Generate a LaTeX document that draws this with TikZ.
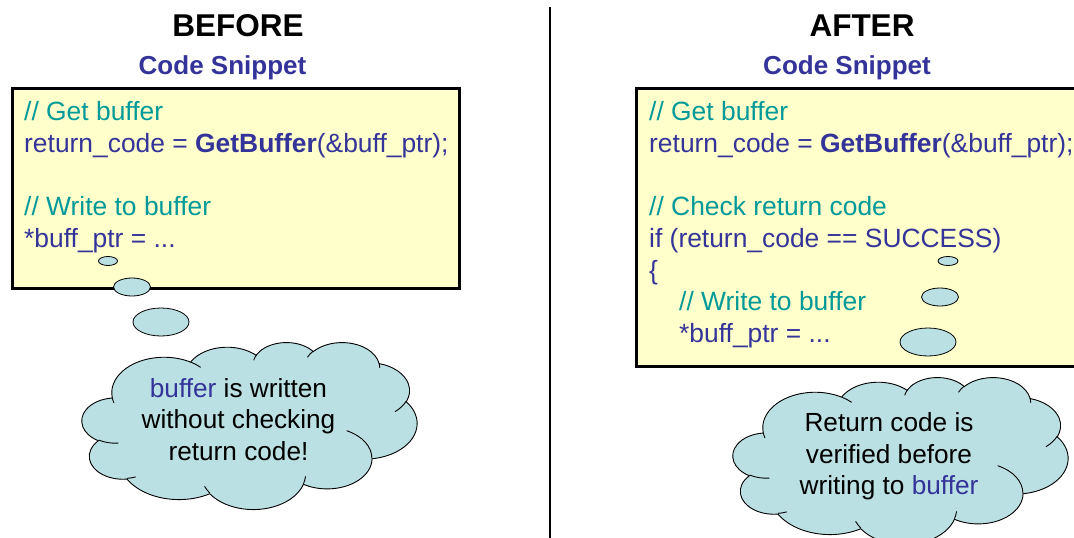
\documentclass[tikz,border=0pt]{standalone}
\usepackage{fontspec}
\setmainfont{Liberation Sans}
\definecolor{navy}{HTML}{333399}
\definecolor{tealc}{HTML}{009999}
\definecolor{boxfill}{HTML}{FFFFCC}
\definecolor{cloudfill}{HTML}{BBE0E3}
% elliptic arc in DrawingML style: wR hR startangle sweep (visual angles)
\newcommand\pparc[4]{\pgfextra{%
  \pgfmathparse{atan2((#1)*sin(#3),(#2)*cos(#3))}\xdef\cta{\pgfmathresult}%
  \pgfmathparse{atan2((#1)*sin((#3)+(#4)),(#2)*cos((#3)+(#4)))}\xdef\ctb{\pgfmathresult}%
  \pgfmathparse{mod(\ctb-\cta+720,360)}\xdef\ctd{\pgfmathresult}}%
  arc[start angle=\cta, delta angle=\ctd, x radius=#1, y radius=#2]}
\newcommand\cloudoutline{%
  (390,1437) \pparc{675.3}{919.0}{-190.4875}{123.7805}
  \pparc{533.3}{726.7}{-144.1024}{89.9452}
  \pparc{436.5}{594.5}{-145.8079}{99.7230}
  \pparc{485.7}{659.5}{-130.9861}{117.2417}
  \pparc{533.3}{727.3}{-78.7089}{109.0269}
  \pparc{677.5}{922.0}{-46.2673}{130.2690}
  \pparc{578.5}{786.7}{0.6250}{114.0333}
  \pparc{675.2}{921.5}{22.4516}{115.1726}
  \pparc{772.0}{1054.3}{66.2426}{75.7110}
  \pparc{436.0}{591.8}{-274.9421}{146.7356}
  \pparc{434.5}{594.5}{-246.8285}{152.5189} -- cycle}
\newcommand\cloudinner{%
  (469.3,2617.7) \pparc{434.5}{594.5}{86.742}{26.4295}
  (692.8,3489.9) \pparc{436.0}{591.8}{73.6105}{11.4475}
  (1647.8,3909.0) \pparc{675.2}{921.5}{137.6242}{14.0811}
  (2882.7,3475.1) \pparc{675.2}{921.5}{6.4533}{15.9984}
  (3412.9,2295.4) \pparc{578.5}{786.7}{-70.2924}{70.9174}
  (4179.8,1535.4) \pparc{533.3}{727.3}{30.3180}{27.7515}
  (3832.4,542.6) \pparc{485.7}{659.5}{-13.7443}{14.8589}
  (2907.8,395.2) \pparc{485.7}{659.5}{-149.1815}{18.1954}
  (2214.1,472.0) \pparc{436.5}{594.5}{-163.4943}{17.6864}
  (1400.6,520.3) \pparc{675.3}{919.0}{-66.707}{12.32}
  (412.7,1578.9) \pparc{675.3}{919.0}{157.654}{11.858}}
\tikzset{
  title/.style={anchor=base, font=\fontsize{31.5}{36}\selectfont\bfseries, text=black, inner sep=0pt},
  subtitle/.style={anchor=base, font=\fontsize{26}{31}\selectfont\bfseries, text=navy, inner sep=0pt},
  codeline/.style={anchor=base west, font=\fontsize{26.4}{31}\selectfont, text=navy, inner sep=0pt},
  comment/.style={codeline, text=tealc},
  cloudtext/.style={anchor=base, font=\fontsize{26.2}{31}\selectfont, text=black, inner sep=0pt},
  codebox/.style={draw=black, line width=3pt, fill=boxfill},
  bubble/.style={draw=black, line width=0.8pt, fill=cloudfill},
  cloudpath/.style={draw=black, line width=0.9pt, fill=cloudfill},
  cloudline/.style={draw=black, line width=0.9pt},
  divider/.style={draw=black, line width=2pt}
}
\begin{document}
\begin{tikzpicture}[x=1pt, y=-1pt]
\useasboundingbox (0,0) rectangle (1074,538);
\clip (0,0) rectangle (1074,538);
\fill[white] (0,0) rectangle (1074,538);

% divider
\coordinate (dtop) at (550,7);
\coordinate (dbot) at (550,540);
\draw[divider] (dtop) -- (dbot);

% titles
\node[title] (tbefore) at (238,36) {BEFORE};
\node[title] (tafter) at (862,36) {AFTER};
\node[subtitle] (sbefore) at (222.5,74) {Code Snippet};
\node[subtitle] (safter) at (847,74) {Code Snippet};

% boxes
\draw[codebox] (12.5,88.5) rectangle (459.5,288.5);
\draw[codebox] (636.5,88.5) rectangle (1090,366.5);

% left code
\node[comment] (l1) at (24,120) {// Get buffer};
\node[codeline] (l2) at (24,152) {return\_code = \textbf{GetBuffer}(\&buff\_ptr);};
\node[comment] (l3) at (24,215) {// Write to buffer};
\node[codeline] (l4) at (24,247) {*buff\_ptr = ...};

% right code
\node[comment] (r1) at (649,120) {// Get buffer};
\node[codeline] (r2) at (649,152) {return\_code = \textbf{GetBuffer}(\&buff\_ptr);};
\node[comment] (r3) at (649,215) {// Check return code};
\node[codeline] (r4) at (649,247) {if (return\_code == SUCCESS)};
\node[codeline] (r5) at (649,279) {\{};
\node[comment] (r6) at (679,310) {// Write to buffer};
\node[codeline] (r7) at (679,342) {*buff\_ptr = ...};

% thought bubbles left
\draw[bubble] (108,261) ellipse [x radius=9.5, y radius=4.5];
\draw[bubble] (132,287) ellipse [x radius=18.5, y radius=9];
\draw[bubble] (161,322) ellipse [x radius=28, y radius=14];
% thought bubbles right
\draw[bubble] (948,261) ellipse [x radius=10, y radius=4.5];
\draw[bubble] (940,297) ellipse [x radius=18.5, y radius=9];
\draw[bubble] (928,342) ellipse [x radius=28, y radius=14];

% left cloud
\begin{scope}[shift={(82,342)}, x=0.077546pt, y=-0.038657pt]
  \path[cloudpath] \cloudoutline;
  \path[cloudline] \cloudinner;
\end{scope}
% right cloud
\begin{scope}[shift={(733,377)}, x=0.077546pt, y=-0.038657pt]
  \path[cloudpath] \cloudoutline;
  \path[cloudline] \cloudinner;
\end{scope}

% cloud texts
\node[cloudtext] (lc1) at (238.5,397) {{\color{navy}buffer} is written};
\node[cloudtext] (lc2) at (238.5,428.5) {without checking};
\node[cloudtext] (lc3) at (238.5,460) {return code!};
\node[cloudtext] (rc1) at (889,431.5) {Return code is};
\node[cloudtext] (rc2) at (889,463) {verified before};
\node[cloudtext] (rc3) at (889,494.5) {writing to {\color{navy}buffer}};
\end{tikzpicture}
\end{document}
